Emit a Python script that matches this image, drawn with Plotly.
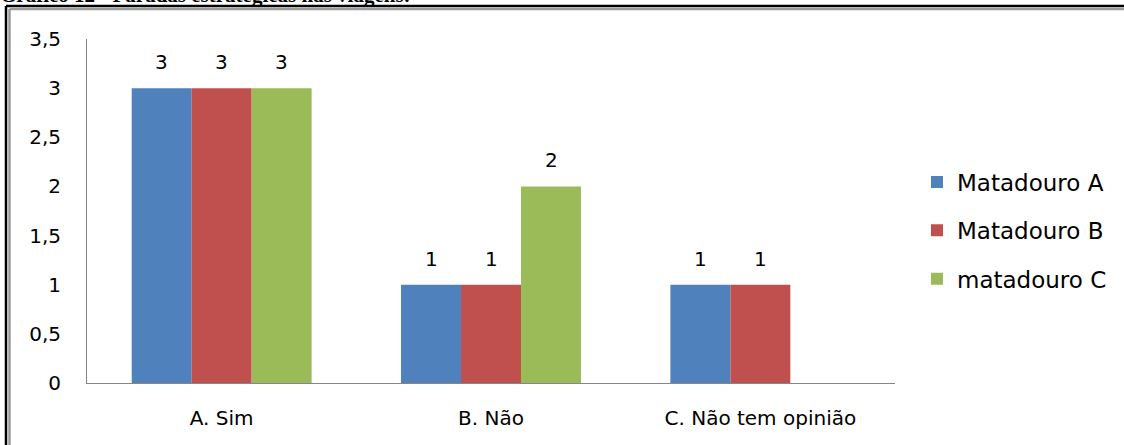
import plotly.graph_objects as go

# Chart data
categories = ["A. Sim", "B. Não", "C. Não tem opinião"]
series_names = ["Matadouro A", "Matadouro B", "matadouro C"]
matadouro_a = [3, 1, 1]
matadouro_b = [3, 1, 1]
matadouro_c = [3, 2, None]
y_tickvals = [0, 0.5, 1, 1.5, 2, 2.5, 3, 3.5]
y_ticktext = ["0", "0,5", "1", "1,5", "2", "2,5", "3", "3,5"]
title_text = "Gráfico 12 - Paradas estratégicas nas viagens:"

colors = ["#4F81BD", "#C0504D", "#9BBB59"]
series_values = [matadouro_a, matadouro_b, matadouro_c]

W, H = 1124, 445
ML, MR, MT, MB = 87, W - 895, 39, H - 383
FONT = "DejaVu Sans"
FS = 20
LEG_FS = 23

def px_x(X):
    return (X - ML) / (W - ML - MR)

def px_y(Y):
    return (H - MB - Y) / (H - MT - MB)

fig = go.Figure()
for i, (name, vals) in enumerate(zip(series_names, series_values)):
    fig.add_trace(go.Bar(
        x=categories, y=vals, name=name,
        marker=dict(color=colors[i], line=dict(width=0)),
        legendgroup=name,
    ))

# value labels above each bar
bar_px = 60
for i, vals in enumerate(series_values):
    for cat, v in zip(categories, vals):
        if v is None:
            continue
        fig.add_annotation(
            x=cat, y=v, xref="x", yref="y", text=str(v), showarrow=False,
            xshift=(i - 1) * bar_px, yshift=26, yanchor="middle",
            font=dict(family=FONT, size=FS, color="#000000"),
        )

# caption running off the top edge
fig.add_annotation(
    x=px_x(-2), y=px_y(9.5), xref="paper", yref="paper",
    xanchor="left", yanchor="bottom", showarrow=False,
    text="<b>" + title_text + "</b>",
    font=dict(family="Liberation Serif", size=21, color="#000000"),
)

# frame lines
shapes = []
for (x0, y0, x1, y1, c, w) in [
    (6, 6, W + 5, 6, "#000000", 2.5),
    (9.5, 9, W + 5, 9, "#9a9a9a", 2.5),
    (6, 6, 6, H + 5, "#000000", 2.5),
    (9.5, 9, 9.5, H + 5, "#9a9a9a", 2.5),
]:
    shapes.append(dict(type="line", xref="paper", yref="paper",
                       x0=px_x(x0), y0=px_y(y0), x1=px_x(x1), y1=px_y(y1),
                       line=dict(color=c, width=w)))

fig.update_layout(
    width=W, height=H,
    margin=dict(l=ML, r=MR, t=MT, b=MB, autoexpand=False),
    paper_bgcolor="#FFFFFF", plot_bgcolor="#FFFFFF",
    barmode="group", bargap=0.332, bargroupgap=0,
    font=dict(family=FONT, size=FS, color="#000000"),
    showlegend=True,
    legend=dict(
        x=px_x(917), y=px_y(160.5), xanchor="left", yanchor="top",
        font=dict(family=FONT, size=LEG_FS, color="#000000"),
        tracegroupgap=15.5, traceorder="grouped",
        bgcolor="rgba(0,0,0,0)",
    ),
    shapes=shapes,
    xaxis=dict(
        showgrid=False, showline=True, linecolor="#868686", linewidth=1,
        ticks="", ticklabelstandoff=17, zeroline=False, automargin=False,
        tickfont=dict(family=FONT, size=FS, color="#000000"),
    ),
    yaxis=dict(
        range=[0, 3.5], tickvals=y_tickvals, ticktext=y_ticktext,
        showgrid=False, showline=True, linecolor="#868686", linewidth=1,
        ticks="", ticklabelstandoff=21, zeroline=False, automargin=False,
        tickfont=dict(family=FONT, size=FS, color="#000000"),
    ),
)

fig.write_html("out.html")
